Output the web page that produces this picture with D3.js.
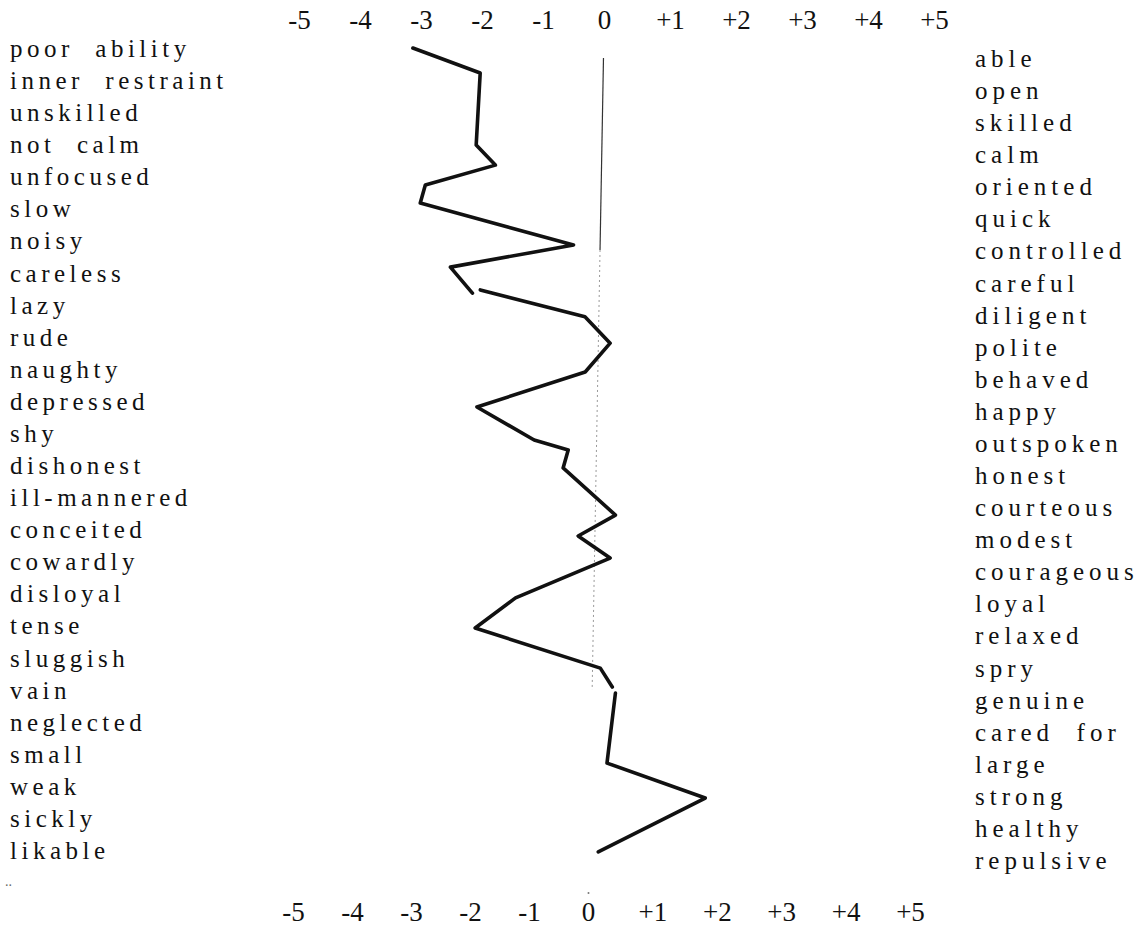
<!DOCTYPE html>
<html><head><meta charset="utf-8">
<script src="https://cdn.jsdelivr.net/npm/d3@7"></script>
<style>
body{margin:0;background:#fff}
</style>
</head><body><svg id="c" width="1143" height="933"></svg>
<script>
const leftLabels = ["poor  ability","inner  restraint","unskilled","not  calm","unfocused","slow","noisy","careless","lazy","rude","naughty","depressed","shy","dishonest","ill-mannered","conceited","cowardly","disloyal","tense","sluggish","vain","neglected","small","weak","sickly","likable"];
const rightLabels = ["able","open","skilled","calm","oriented","quick","controlled","careful","diligent","polite","behaved","happy","outspoken","honest","courteous","modest","courageous","loyal","relaxed","spry","genuine","cared  for","large","strong","healthy","repulsive"];
const tickValues = [-5,-4,-3,-2,-1,0,1,2,3,4,5];
const tickLabels = ["-5","-4","-3","-2","-1","0","+1","+2","+3","+4","+5"];
// hand-drawn profile: vertex position (in label rows) and scale value; null = pen lifted
const profileRow   = [-0.28,0.50,2.74,3.37,3.99,4.55,5.86,6.55,7.36,null,7.26,8.10,8.92,9.82,10.91,11.94,12.25,12.81,14.28,14.93,15.62,16.86,17.80,19.05,19.64,null,19.83,22.01,23.10,24.78];
const profileValue = [-3.13,-2.02,-2.07,-1.75,-2.90,-2.98,-0.44,-2.47,-2.10,null,-1.97,-0.23,0.18,-0.21,-2.00,-1.04,-0.47,-0.55,0.31,-0.28,0.24,-1.31,-1.98,0.12,0.31,null,0.36,0.25,1.78,0.14];

const FONT = '"Liberation Serif", "DejaVu Serif", serif';
const svg = d3.select("#c");

// the scanned sheet is slightly skewed: top and bottom scales differ
const xTop = d3.scaleLinear().domain([-5,0,5]).range([299,604,934]);
const xBot = d3.scaleLinear().domain([-5,0,5]).range([293,588,910]);
const yTopAxis = 29, yBotAxis = 921;
const yRow = d3.scaleLinear().domain([0,25]).range([57,859]);
const tAt = y => (y - yTopAxis) / (yBotAxis - yTopAxis);
const xAt = (v, y) => d3.interpolateNumber(xTop(v), xBot(v))(tAt(y));

const fmt = d => tickLabels[tickValues.indexOf(d)];

function drawAxis(scale, y) {
  const g = svg.append("g").attr("transform", `translate(0,${y})`)
    .call(d3.axisTop(scale).tickValues(tickValues).tickFormat(fmt).tickSize(0).tickPadding(0));
  g.attr("font-family", FONT).attr("font-size", 27);
  g.select(".domain").remove();
  g.selectAll("text").style("font-family", FONT).attr("font-size", 27).attr("fill", "#111");
}
drawAxis(xTop, yTopAxis);
drawAxis(xBot, yBotAxis);

// zero reference line
const z1 = 58, z2 = 250, z3 = 690;
svg.append("line").attr("x1", xAt(0, z1)).attr("y1", z1).attr("x2", xAt(0, z2)).attr("y2", z2)
  .attr("stroke", "#333").attr("stroke-width", 1.2);
svg.append("line").attr("x1", xAt(0, z2)).attr("y1", z2).attr("x2", xAt(0, z3)).attr("y2", z3)
  .attr("stroke", "#999").attr("stroke-width", 1).attr("stroke-dasharray", "2,3");
svg.append("circle").attr("cx", xAt(0, 893)).attr("cy", 893).attr("r", 1).attr("fill", "#777");

// labels
svg.append("g").selectAll("text").data(leftLabels).join("text")
  .attr("x", 10).attr("y", (d, i) => yRow(i))
  .style("font-family", FONT).style("white-space", "pre").attr("fill", "#111")
  .attr("font-size", 25).attr("letter-spacing", 4.5)
  .text(d => d);
svg.append("g").selectAll("text").data(rightLabels).join("text")
  .attr("x", 975).attr("y", (d, i) => yRow(i) + 10)
  .style("font-family", FONT).style("white-space", "pre").attr("fill", "#111")
  .attr("font-size", 25).attr("letter-spacing", 5)
  .text(d => d);
svg.append("text").attr("x", 5).attr("y", 886).attr("font-size", 14).attr("fill", "#666").text("..");

// profile line
const pts = profileRow.map((r, i) => r === null ? null : { r, v: profileValue[i] });
const line = d3.line()
  .defined(d => d !== null)
  .x(d => xAt(d.v, yRow(d.r)))
  .y(d => yRow(d.r));
svg.append("path").datum(pts).attr("d", line)
  .attr("fill", "none").attr("stroke", "#111").attr("stroke-width", 3.6)
  .attr("stroke-linejoin", "round").attr("stroke-linecap", "round");
</script>
</body></html>
